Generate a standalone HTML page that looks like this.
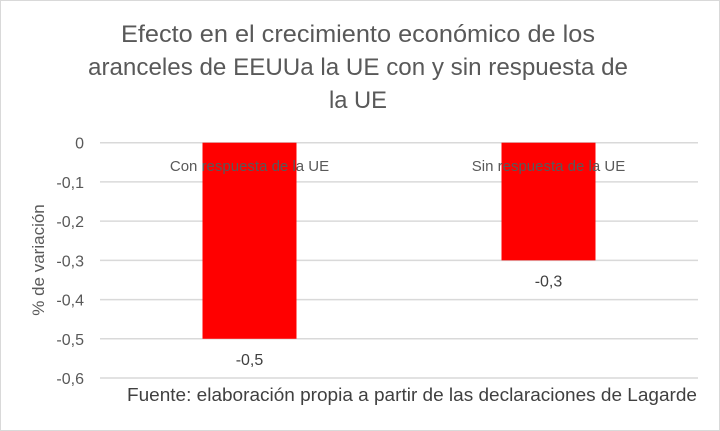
<!DOCTYPE html>
<html><head><meta charset="utf-8"><style>
body{margin:0;background:#fff}
svg{display:block;font-family:"Liberation Sans",Arial,sans-serif}
</style></head><body>
<svg id="chart" width="720" height="431">
<rect x="0.5" y="0.5" width="719" height="430" fill="#fff" stroke="#d9d9d9"/>
<g fill="#595959" font-size="24">
<text x="121" y="42" textLength="474" lengthAdjust="spacingAndGlyphs">Efecto en el crecimiento económico de los</text>
<text x="88" y="75" textLength="540" lengthAdjust="spacingAndGlyphs">aranceles de EEUUa la UE con y sin respuesta de</text>
<text x="329" y="108" textLength="58" lengthAdjust="spacingAndGlyphs">la UE</text>
</g>
<text transform="translate(44,260) rotate(-90)" text-anchor="middle" font-size="17" fill="#595959">% de variación</text>
<text x="127" y="401" textLength="570" lengthAdjust="spacingAndGlyphs" font-size="18" fill="#404040">Fuente: elaboración propia a partir de las declaraciones de Lagarde</text>
<g id="grid"></g><g id="bars"></g><g id="labels"></g>
</svg>
<script>
const categories=["Con respuesta de la UE","Sin respuesta de la UE"];
const values=[-0.5,-0.3];
const valueLabels=["-0,5","-0,3"];
const ticks=[0,-0.1,-0.2,-0.3,-0.4,-0.5,-0.6];
const tickLabels=["0","-0,1","-0,2","-0,3","-0,4","-0,5","-0,6"];
const NS="http://www.w3.org/2000/svg";
const x0=100,x1=698,yTop=142.7,yBot=378;
const y=v=>yTop+(0-v)/0.6*(yBot-yTop);
const bandW=(x1-x0)/categories.length;
const cx=i=>x0+bandW*(i+0.5);
function mk(tag,attrs,parent,text){const e=document.createElementNS(NS,tag);for(const k in attrs)e.setAttribute(k,attrs[k]);if(text!==undefined)e.textContent=text;parent.appendChild(e);return e;}
const grid=document.getElementById('grid'),bars=document.getElementById('bars'),labels=document.getElementById('labels');
ticks.forEach((t,i)=>{
 const l=mk('line',{x1:x0,x2:x1,y1:y(t),y2:y(t),stroke:'#d9d9d9','stroke-width':1.5},grid);
 
 
 const tx=mk('text',{x:84,y:y(t)+6,'text-anchor':'end','font-size':16,fill:'#595959'},grid,tickLabels[i]);
 
 
});
values.forEach((v,i)=>{
 const w=94;
 const r=mk('rect',{x:cx(i)-w/2,y:y(0),width:w,height:y(v)-y(0),fill:'#ff0000'},bars);
 
 
 const c=mk('text',{x:cx(i),y:171,'text-anchor':'middle','font-size':15,fill:'#595959'},labels,categories[i]);
 
 
 const d=mk('text',{x:cx(i),y:y(v)+26,'text-anchor':'middle','font-size':16,fill:'#404040'},labels,valueLabels[i]);
 
 
});
</script>
</body></html>
